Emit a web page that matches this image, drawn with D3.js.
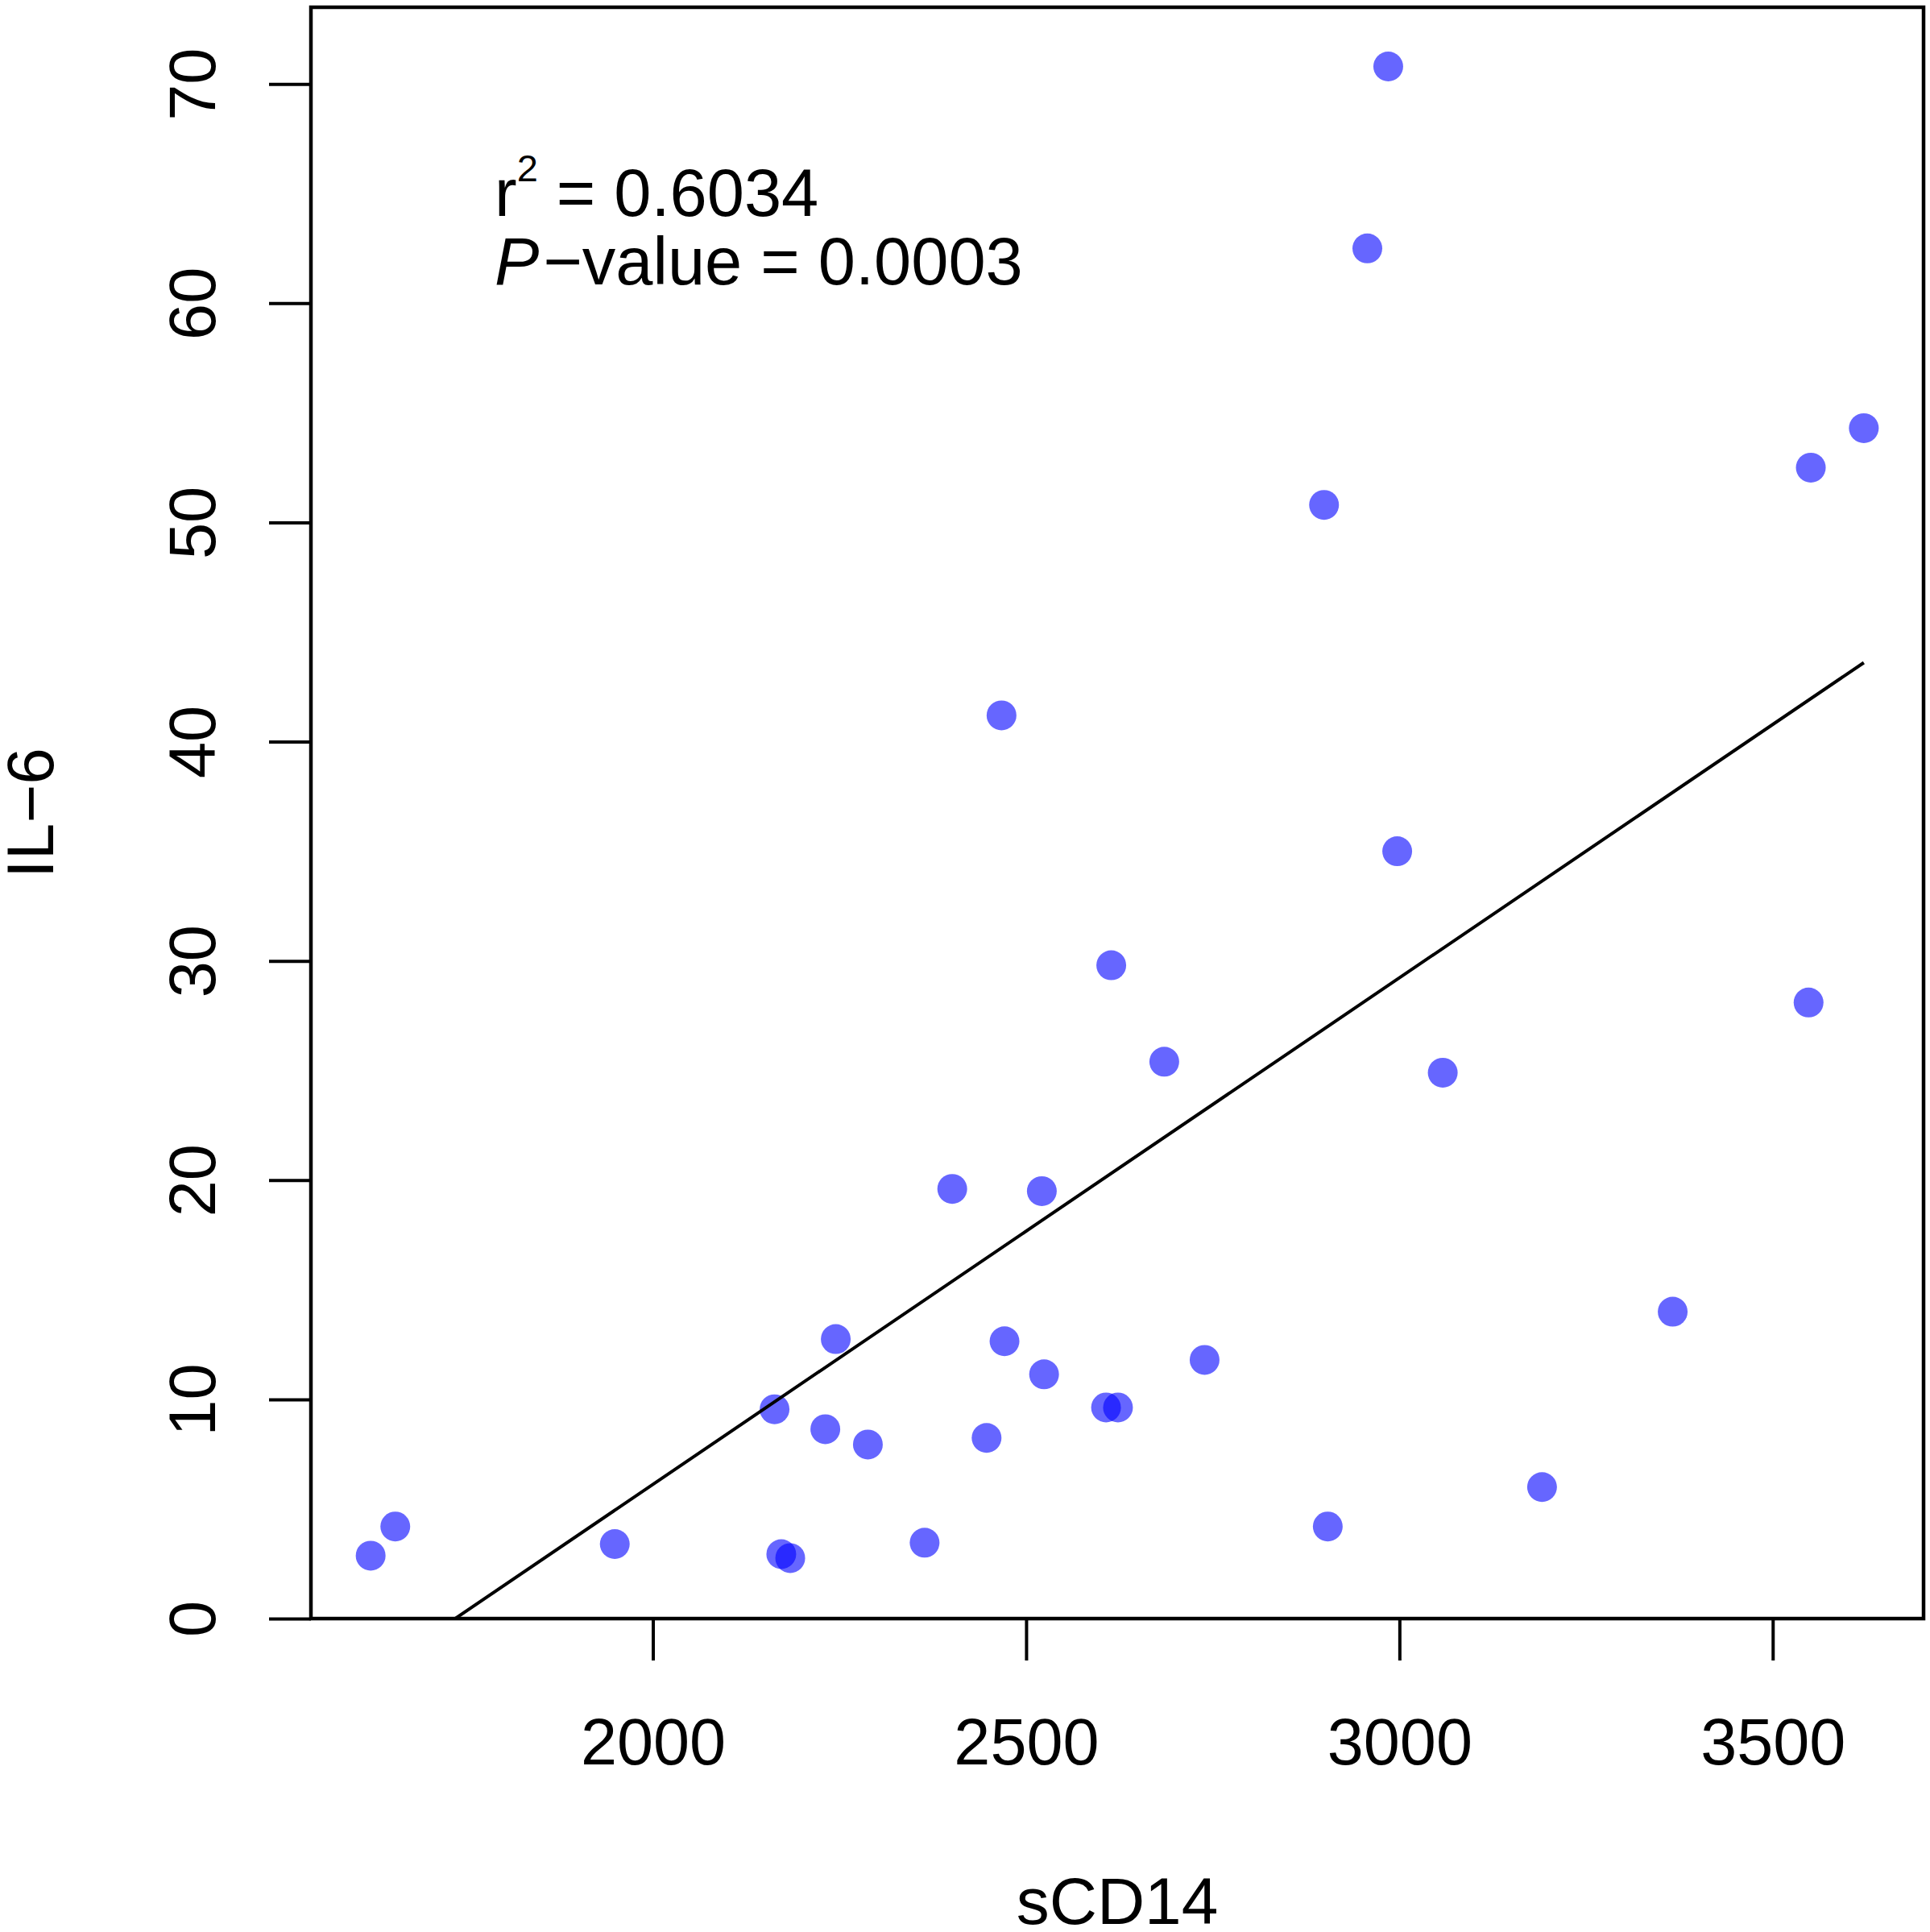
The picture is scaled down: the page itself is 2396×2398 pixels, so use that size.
<!DOCTYPE html>
<html>
<head>
<meta charset="utf-8">
<script src="https://cdn.jsdelivr.net/npm/d3@7/dist/d3.min.js"></script>
<style>
  body { margin: 0; background: #fff; }
  text { font-family: "Liberation Sans", Arial, Helvetica, sans-serif; fill: #000; }
</style>
</head>
<body>
<svg id="chart" width="2396" height="2398"></svg>
<script>
// values
var sCD14 = [1622, 1655, 1949, 2163, 2172, 2184, 2231, 2245, 2288, 2364, 2401, 2447, 2467, 2471,
             2521, 2524, 2607, 2614, 2623, 2685, 2739, 2899, 2904, 2957, 2985, 2997, 3058, 3191,
             3366, 3548, 3551, 3622];
var IL6 = [2.87, 4.2, 3.4, 9.55, 2.94, 2.76, 8.64, 12.75, 7.94, 3.46, 19.6, 8.24, 41.2, 12.65,
           19.5, 11.14, 9.63, 29.8, 9.63, 25.4, 11.8, 50.8, 4.2, 62.5, 70.8, 35.0, 24.9, 6.0,
           14.0, 28.1, 52.5, 54.3];
var xTicks = [2000, 2500, 3000, 3500];
var yTicks = [0, 10, 20, 30, 40, 50, 60, 70];
var fit = [-40.1, 0.02311];   // intercept, slope of the drawn line
var stats = ["0.6034", "0.0003"];

var box = { left: 386, right: 2388, top: 9, bottom: 2009 };

var svg = d3.select("#chart");

var x = d3.scaleLinear()
  .domain([1542, 3702])
  .range([box.left, box.right]);

var y = d3.scaleLinear()
  .domain([0, 73.5])
  .range([box.bottom, box.top]);

svg.append("clipPath")
  .attr("id", "plotclip")
  .append("rect")
  .attr("x", box.left)
  .attr("y", box.top)
  .attr("width", box.right - box.left)
  .attr("height", box.bottom - box.top);

var pts = sCD14.map(function(v, i) { return { x: v, y: IL6[i] }; });

// points
svg.append("g")
  .selectAll("circle")
  .data(pts)
  .enter()
  .append("circle")
  .attr("cx", d => x(d.x))
  .attr("cy", d => y(d.y))
  .attr("r", 18.5)
  .attr("fill", "#0000ff")
  .attr("fill-opacity", 0.6);

// regression line over data range
var xr = d3.extent(sCD14);
var line = d3.line()
  .x(d => x(d))
  .y(d => y(fit[0] + fit[1] * d));

svg.append("path")
  .datum(xr)
  .attr("clip-path", "url(#plotclip)")
  .attr("d", line)
  .attr("fill", "none")
  .attr("stroke", "#000")
  .attr("stroke-width", 4);

// box
svg.append("rect")
  .attr("x", box.left)
  .attr("y", box.top)
  .attr("width", box.right - box.left)
  .attr("height", box.bottom - box.top)
  .attr("fill", "none")
  .attr("stroke", "#000")
  .attr("stroke-width", 4.5);

// axes
var xAxis = d3.axisBottom(x)
  .tickValues(xTicks)
  .tickSize(52)
  .tickSizeOuter(0)
  .tickFormat(d3.format("d"));

var gx = svg.append("g")
  .attr("transform", "translate(0," + box.bottom + ")")
  .call(xAxis);
gx.select(".domain").remove();
gx.selectAll("line").attr("stroke-width", 4);
gx.selectAll("text")
  .attr("y", 181)
  .attr("dy", null)
  .attr("font-size", 81)
  .attr("font-family", null)
  .attr("fill", "#000");

var yAxis = d3.axisLeft(y)
  .tickValues(yTicks)
  .tickSize(52)
  .tickSizeOuter(0);

var gy = svg.append("g")
  .attr("transform", "translate(" + box.left + ",0)")
  .call(yAxis);
gy.select(".domain").remove();
gy.selectAll("line").attr("stroke-width", 4);
gy.selectAll("text")
  .attr("x", 0)
  .attr("dy", null)
  .attr("text-anchor", "middle")
  .attr("transform", "translate(" + (267 - box.left) + ",0) rotate(-90)")
  .attr("font-size", 81)
  .attr("font-family", null)
  .attr("fill", "#000");

// axis titles
svg.append("text")
  .attr("x", (box.left + box.right) / 2)
  .attr("y", 2388)
  .attr("text-anchor", "middle")
  .attr("font-size", 82)
  .text("sCD14");

svg.append("text")
  .attr("transform", "translate(66," + (box.top + box.bottom) / 2 + ") rotate(-90)")
  .attr("text-anchor", "middle")
  .attr("font-size", 82)
  .text("IL\u22126");

// annotation
var t1 = svg.append("text")
  .attr("x", 614)
  .attr("y", 268)
  .attr("font-size", 83);
t1.append("tspan").text("r");
t1.append("tspan").attr("font-size", 47).attr("dy", -43).text("2");
t1.append("tspan").attr("dy", 43).text(" = " + stats[0]);

var t2 = svg.append("text")
  .attr("x", 614)
  .attr("y", 353)
  .attr("font-size", 83);
t2.append("tspan").attr("font-style", "italic").text("P");
t2.append("tspan").attr("dx", 5).text("\u2212value = " + stats[1]);
</script>
</body>
</html>
